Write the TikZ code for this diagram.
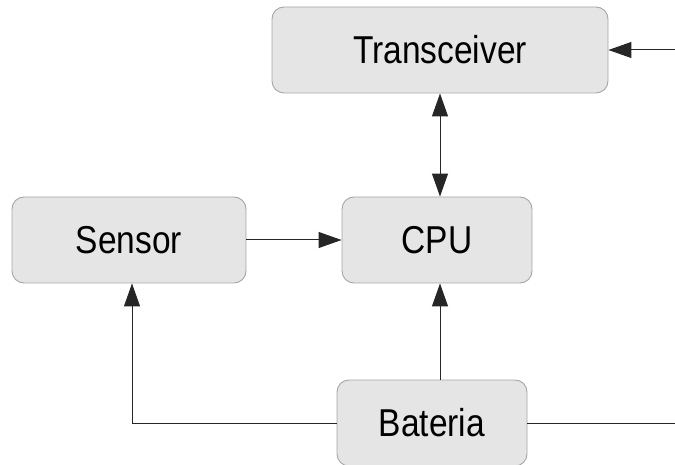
\documentclass[tikz,border=0pt]{standalone}
\usepackage{fontspec}
\setmainfont{Liberation Sans}
\usetikzlibrary{arrows.meta}
\newcommand{\blocklabel}[1]{\scalebox{1}[1.16]{#1}}
\begin{document}
\begin{tikzpicture}[x=1pt,y=-1pt,
  block/.style={draw=black!35, line width=0.9pt, fill=black!10,
    rounded corners=12pt, minimum height=86pt, inner sep=0pt,
    font=\fontsize{33.5}{40}\selectfont},
  link/.style={draw=black!85, line width=1pt},
  tip/.style={-{Triangle[length=23pt,width=16pt]}}
]
\useasboundingbox (0,0) rectangle (675,465);

\node[block, minimum width=336pt] (trx) at (440,50)  {\blocklabel{Transceiver}};
\node[block, minimum width=234pt] (sen) at (129,240) {\blocklabel{Sensor}};
\node[block, minimum width=190pt] (cpu) at (437,240) {\blocklabel{CPU}};
\node[block, minimum width=190pt] (bat) at (432,423) {\blocklabel{Bateria}};

\coordinate (ext-in)  at (675,50);
\coordinate (ext-out) at (675,423);
\coordinate (bus)     at (440,423);
\coordinate (sen-in)  at (132,240);

% radio link and data paths
\draw[link, tip] (ext-in) -- (trx.east);
\draw[link, {Triangle[length=23pt,width=16pt]}-{Triangle[length=23pt,width=16pt]}]
  (trx.south) -- (trx.south |- cpu.north);
\draw[link, tip] (sen.east) -- (cpu.west);

% power distribution
\draw[link, tip] (bat.north -| bus) -- (bus |- cpu.south);
\draw[link, tip] (bat.west) -- (sen-in |- bat.west) -- (sen-in |- sen.south);
\draw[link] (bat.east) -- (ext-out);
\end{tikzpicture}
\end{document}
